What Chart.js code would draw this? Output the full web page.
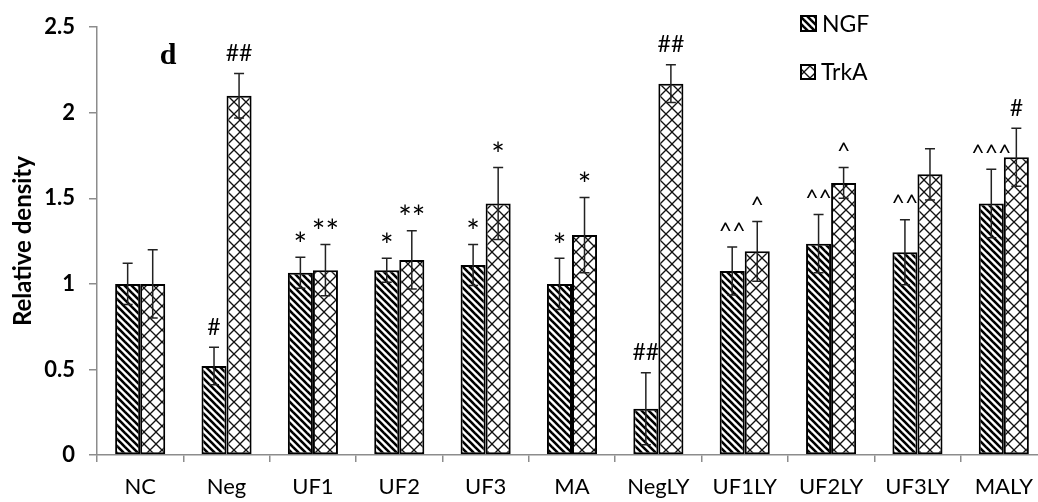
<!DOCTYPE html>
<html><head><meta charset="utf-8">
<script src="https://cdn.jsdelivr.net/npm/chart.js@4"></script>
<style>
html,body{margin:0;padding:0;background:#fff;overflow:hidden;width:1038px;height:502px}
#wrap{position:relative;width:1047px;height:502px}
</style>
</head><body><div id="wrap"><canvas id="c"></canvas></div>
<script>
const categories = ['NC','Neg','UF1','UF2','UF3','MA','NegLY','UF1LY','UF2LY','UF3LY','MALY'];
const ngfValues  = [1.00, 0.52, 1.065, 1.08, 1.11, 1.00, 0.27, 1.075, 1.235, 1.185, 1.47];
const ngfErrors  = [0.12, 0.11, 0.09, 0.07, 0.12, 0.15, 0.21, 0.14, 0.17, 0.19, 0.20];
const trkaValues = [1.00, 2.10, 1.08, 1.14, 1.47, 1.285, 2.17, 1.19, 1.59, 1.64, 1.74];
const trkaErrors = [0.20, 0.13, 0.15, 0.17, 0.21, 0.22, 0.11, 0.175, 0.09, 0.15, 0.17];
const ngfMarks   = ['', '#', '*', '*', '*', '*', '##', '^^', '^^', '^^', '^^^'];
const trkaMarks  = ['', '##', '**', '**', '*', '*', '##', '^', '^', '', '#'];
const yTicks = [0, 0.5, 1, 1.5, 2, 2.5];
const seriesNames = ['NGF', 'TrkA'];
const yTitle = 'Relative density';
const panelLabel = 'd';

function stripePattern(){
  const s = 7, c = document.createElement('canvas');
  c.width = s; c.height = s;
  const g = c.getContext('2d');
  g.fillStyle = '#fff'; g.fillRect(0,0,s,s);
  g.strokeStyle = '#000'; g.lineWidth = 2.6;
  for (const k of [-s, 0, s]) {
    g.beginPath(); g.moveTo(-s, -s + k); g.lineTo(2*s, 2*s + k); g.stroke();
  }
  return document.createElement('canvas').getContext('2d').createPattern(c, 'repeat');
}
function diamondPattern(){
  const s = 12, c = document.createElement('canvas');
  c.width = s; c.height = s;
  const g = c.getContext('2d');
  g.fillStyle = '#fff'; g.fillRect(0,0,s,s);
  g.strokeStyle = '#111'; g.lineWidth = 1.3;
  for (const k of [-s, 0, s]) {
    g.beginPath(); g.moveTo(-s, -s + k); g.lineTo(2*s, 2*s + k); g.stroke();
    g.beginPath(); g.moveTo(-s, 2*s + k); g.lineTo(2*s, -s + k); g.stroke();
  }
  return document.createElement('canvas').getContext('2d').createPattern(c, 'repeat');
}
const ngfFill = stripePattern();
const trkaFill = diamondPattern();

const errorBars = {
  id: 'errorBars',
  afterDatasetsDraw(chart){
    const ctx = chart.ctx, y = chart.scales.y;
    chart.data.datasets.forEach((ds, i) => {
      const meta = chart.getDatasetMeta(i);
      meta.data.forEach((bar, j) => {
        const v = ds.data[j], e = ds.errors[j];
        const top = y.getPixelForValue(v + e), bot = y.getPixelForValue(v - e);
        ctx.save();
        ctx.strokeStyle = '#222'; ctx.lineWidth = 1.5;
        ctx.beginPath();
        ctx.moveTo(bar.x, top); ctx.lineTo(bar.x, bot);
        ctx.moveTo(bar.x - 5, top); ctx.lineTo(bar.x + 5, top);
        ctx.moveTo(bar.x - 5, bot); ctx.lineTo(bar.x + 5, bot);
        ctx.stroke();
        const m = ds.marks[j];
        if (m) {
          const big = m.indexOf('*') >= 0;
          ctx.font = (big ? '32px' : '23px') + ' Lato'; ctx.fillStyle = '#000';
          ctx.textAlign = 'center'; ctx.textBaseline = 'alphabetic';
          const tm = ctx.measureText(m);
          const cy = top - 21;
          ctx.fillText(m, bar.x, cy + (tm.actualBoundingBoxAscent - tm.actualBoundingBoxDescent) / 2);
        }
        ctx.restore();
      });
    });
  }
};

const extras = {
  id: 'extras',
  afterDraw(chart){
    const ctx = chart.ctx, a = chart.chartArea;
    ctx.save();
    ctx.font = 'bold 30px "Liberation Serif", "DejaVu Serif", serif';
    ctx.fillStyle = '#000'; ctx.textAlign = 'center'; ctx.textBaseline = 'alphabetic';
    ctx.fillText(panelLabel, a.left + 71, a.top + 37);
    const fills = [ngfFill, trkaFill];
    const items = [{x: 800, y: 15, s: 17}, {x: 800, y: 64, s: 16}];
    chart.data.datasets.forEach((ds, i) => {
      const it = items[i];
      ctx.fillStyle = fills[i];
      ctx.fillRect(it.x, it.y, it.s, it.s);
      ctx.strokeStyle = '#000'; ctx.lineWidth = 2;
      ctx.strokeRect(it.x + 1, it.y + 1, it.s - 2, it.s - 2);
      ctx.font = '23px Lato'; ctx.fillStyle = '#000';
      ctx.textAlign = 'left'; ctx.textBaseline = 'middle';
      ctx.fillText(ds.label, it.x + it.s + 5, it.y + it.s / 2 + 1);
    });
    ctx.restore();
  }
};

const axisGray = '#8c8c8c';
new Chart(document.getElementById('c'), {
  type: 'bar',
  data: {
    labels: categories,
    datasets: [
      { label: seriesNames[0], data: ngfValues, errors: ngfErrors, marks: ngfMarks,
        backgroundColor: ngfFill, borderColor: '#000', borderWidth: 2, borderSkipped: false,
        categoryPercentage: 0.58, barPercentage: 1.0 },
      { label: seriesNames[1], data: trkaValues, errors: trkaErrors, marks: trkaMarks,
        backgroundColor: trkaFill, borderColor: '#000', borderWidth: 2, borderSkipped: false,
        categoryPercentage: 0.58, barPercentage: 1.0 }
    ]
  },
  options: {
    responsive: true, maintainAspectRatio: false, animation: false,
    layout: { padding: { top: 26, right: 0, left: 0, bottom: 0 } },
    plugins: { legend: { display: false }, tooltip: { enabled: false } },
    scales: {
      x: {
        grid: { display: true, drawOnChartArea: false, drawTicks: true, tickLength: 7, color: axisGray, lineWidth: 1.5, offset: true },
        border: { color: axisGray, width: 1.5 },
        ticks: { color: '#000', font: { family: 'Lato', size: 22 }, padding: 12, maxRotation: 0, autoSkip: false },
        afterFit(s){ s.height = 47; }
      },
      y: {
        min: 0, max: 2.5,
        afterBuildTicks(s){ s.ticks = yTicks.map(v => ({ value: v })); },
        ticks: { color: '#000', font: { family: 'Lato', size: 22, weight: 'bold' }, padding: 14,
                 callback: v => String(v) },
        grid: { drawOnChartArea: false, tickLength: 8, color: axisGray, lineWidth: 1.5 },
        border: { color: axisGray, width: 1.5 },
        title: { display: true, text: yTitle, color: '#000', font: { family: 'Lato', size: 24, weight: 'bold' }, padding: { top: 9, bottom: 0 } },
        afterFit(s){ s.width = 97; }
      }
    }
  },
  plugins: [errorBars, extras]
});
</script>
</body></html>
